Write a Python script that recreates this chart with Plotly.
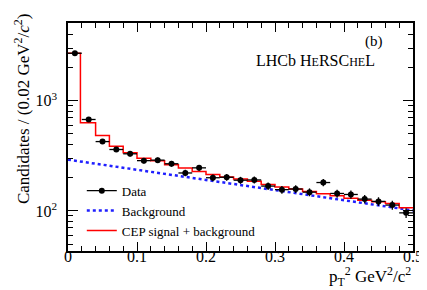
import plotly.graph_objects as go
import numpy as np

# Data (bin centres, counts)
pt2 = [0.01, 0.03, 0.05, 0.07, 0.09, 0.11, 0.13, 0.15, 0.17, 0.19, 0.21, 0.23, 0.25,
       0.27, 0.29, 0.31, 0.33, 0.35, 0.37, 0.39, 0.41, 0.43, 0.45, 0.47, 0.49]
counts = [2700, 676, 426, 361, 330, 286, 289, 268, 221, 246, 200, 202, 190,
          191, 168, 156, 158, 148, 181, 144, 141, 128, 122, 113, 96]

# CEP signal + background fit (step edges and values)
fit_edges = [0.0, 0.018, 0.04, 0.06, 0.08, 0.10, 0.12, 0.14, 0.16, 0.18, 0.20, 0.22, 0.24,
             0.26, 0.28, 0.30, 0.32, 0.34, 0.36, 0.38, 0.40, 0.42, 0.44, 0.46, 0.48, 0.50]
fit_vals = [2700, 631, 484, 387, 337, 300, 285, 262, 245, 228, 214, 203, 195,
            186, 174, 165, 158, 150, 143, 137, 130, 125, 121, 117, 107, 107]

# Background
bkg_x = [0.0, 0.1, 0.2, 0.3, 0.4, 0.5]
bkg_y = [292, 237, 191, 155, 125, 101]

err = [np.sqrt(c) for c in counts]

FONT = "Liberation Serif, Times New Roman, Times, DejaVu Serif, serif"

fig = go.Figure()
fig.add_trace(go.Scatter(x=bkg_x, y=bkg_y, mode="lines",
                         line=dict(color="#1f1fff", width=2.5, dash="dot"),
                         showlegend=False))
fig.add_trace(go.Scatter(x=fit_edges, y=fit_vals, mode="lines",
                         line=dict(color="#ff0000", width=1.5, shape="hv"),
                         showlegend=False))
fig.add_trace(go.Scatter(x=pt2, y=counts, mode="markers",
                         marker=dict(color="black", size=6),
                         error_y=dict(type="data", array=err, color="black", thickness=1.3, width=0),
                         error_x=dict(type="constant", value=0.01, color="black", thickness=1.3, width=0),
                         showlegend=False))
# legend entries
fig.add_trace(go.Scatter(x=[None], y=[None], mode="lines+markers", name="Data",
                         marker=dict(color="black", size=6), line=dict(color="black", width=1.3)))
fig.add_trace(go.Scatter(x=[None], y=[None], mode="lines", name="Background",
                         line=dict(color="#1f1fff", width=2.5, dash="dot")))
fig.add_trace(go.Scatter(x=[None], y=[None], mode="lines", name="CEP signal + background",
                         line=dict(color="#ff0000", width=1.5)))

fig.update_layout(
    width=427, height=290,
    margin=dict(l=60, r=22, t=15, b=47),
    paper_bgcolor="white", plot_bgcolor="white",
    font=dict(family=FONT, size=14, color="black"),
    showlegend=True,
    legend=dict(x=0.04, y=0.33, xanchor="left", yanchor="top",
                bgcolor="rgba(0,0,0,0)", font=dict(family=FONT, size=13),
                tracegroupgap=0, itemwidth=30),
    xaxis=dict(range=[0, 0.5], showgrid=False, zeroline=False,
               showline=True, linecolor="black", linewidth=1.5, mirror="allticks",
               ticks="inside", ticklen=9, tickcolor="black", tickwidth=1.2,
               tickvals=[0, 0.1, 0.2, 0.3, 0.4, 0.5],
               ticktext=["0", "0.1", "0.2", "0.3", "0.4", "0.5"],
               tickfont=dict(family=FONT, size=16), ticklabelstandoff=-10,
               minor=dict(ticks="inside", ticklen=5, dtick=0.02, tick0=0, tickcolor="black", tickwidth=1.2, showgrid=False)),
    yaxis=dict(type="log", range=[1.636, 3.706], showgrid=False, zeroline=False,
               showline=True, linecolor="black", linewidth=1.5, mirror="allticks",
               ticks="inside", ticklen=10, tickcolor="black", tickwidth=1.2,
               tickvals=[100, 1000], ticktext=["10<sup>2</sup>", "10<sup>3</sup>"],
               tickfont=dict(family=FONT, size=16), ticklabelstandoff=6,
               minor=dict(ticks="inside", ticklen=5, tickcolor="black", tickwidth=1.2,
                          tickvals=[50, 60, 70, 80, 90, 200, 300, 400, 500, 600, 700, 800, 900,
                                    2000, 3000, 4000, 5000], showgrid=False)),
    annotations=[
        dict(text="(b)", x=0.92, y=0.92, xref="paper", yref="paper", xanchor="right", yanchor="middle",
             showarrow=False, font=dict(family=FONT, size=15)),
        dict(text="LHCb H<span style='font-size:12px'>E</span>RSC<span style='font-size:12px'>HE</span>L",
             x=0.895, y=0.835, xref="paper", yref="paper", xanchor="right", yanchor="middle",
             showarrow=False, font=dict(family=FONT, size=16)),
        dict(text="Candidates / (0.02 GeV<sup>2</sup>/<i>c</i><sup>2</sup>)", textangle=-90,
             x=-0.135, y=1.05, xref="paper", yref="paper", xanchor="center", yanchor="top",
             showarrow=False, font=dict(family=FONT, size=17)),
        dict(text="p<sub>T</sub><sup>2</sup> GeV<sup>2</sup>/c<sup>2</sup>",
             x=1.0, y=-0.05, xref="paper", yref="paper", xanchor="right", yanchor="top",
             showarrow=False, font=dict(family=FONT, size=17)),
    ],
)

fig.write_html("out.html")
